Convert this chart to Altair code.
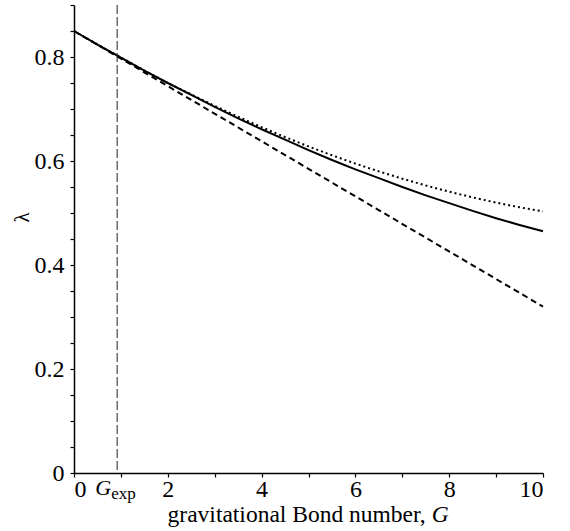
import altair as alt
import pandas as pd

# Bond number grid and λ values
g = [0.0, 0.5, 1.0, 1.5, 2.0, 2.5, 3.0, 3.5, 4.0, 4.5, 5.0,
     5.5, 6.0, 6.5, 7.0, 7.5, 8.0, 8.5, 9.0, 9.5, 10.0]
lam_solid = [0.850, 0.824, 0.799, 0.774, 0.750, 0.727, 0.704, 0.682, 0.661, 0.641, 0.621,
             0.602, 0.584, 0.567, 0.550, 0.534, 0.519, 0.504, 0.490, 0.477, 0.465]
lam_dotted = [0.850, 0.824, 0.799, 0.774, 0.750, 0.728, 0.706, 0.685, 0.665, 0.646, 0.628,
              0.611, 0.595, 0.580, 0.566, 0.553, 0.541, 0.530, 0.520, 0.511, 0.503]
g_lin = [0.0, 10.0]
lam_dashed = [0.85, 0.32]
g_exp = [0.92]

x_ticks = list(range(11))
y_ticks = [round(0.05 * i, 2) for i in range(19)]

FONT = "Liberation Serif"

x_scale = alt.Scale(domain=[0, 10], nice=False, zero=False)
y_scale = alt.Scale(domain=[0, 0.9], nice=False, zero=False)

x_axis = alt.Axis(
    values=x_ticks,
    labelExpr="datum.value % 2 == 0 ? datum.label : ''",
    title=None, labelPadding=0,
)
y_axis = alt.Axis(
    values=y_ticks,
    labelExpr="abs(datum.value*5 - round(datum.value*5)) < 0.001 ? (datum.value == 0 ? '0' : format(datum.value, '.1f')) : ''",
    title="λ", titleX=-42, titleY=212, labelPadding=6,
)

df_s = pd.DataFrame({"G": g, "lam": lam_solid})
df_d = pd.DataFrame({"G": g, "lam": lam_dotted})
df_l = pd.DataFrame({"G": g_lin, "lam": lam_dashed})
df_e = pd.DataFrame({"G": g_exp})

X = alt.X("G:Q", scale=x_scale, axis=x_axis)
Y = alt.Y("lam:Q", scale=y_scale, axis=y_axis)

solid = alt.Chart(df_s).mark_line(color="black", strokeWidth=2).encode(x=X, y=Y)
dotted = alt.Chart(df_d).mark_line(color="black", strokeWidth=2, strokeDash=[2, 3]).encode(x=X, y=Y)
dashed = alt.Chart(df_l).mark_line(color="black", strokeWidth=2, strokeDash=[6, 4]).encode(x=X, y=Y)

vline = alt.Chart(df_e).mark_rule(color="#222222", strokeWidth=1, strokeDash=[9, 3]).encode(x=X)

gexp_G = alt.Chart(df_e).mark_text(
    text="G", font=FONT, fontStyle="italic", fontSize=22, color="black",
    align="right", baseline="alphabetic", dx=-6,
).encode(x=X, y=alt.value(490))
gexp_sub = alt.Chart(df_e).mark_text(
    text="exp", font=FONT, fontSize=17, color="black",
    align="left", baseline="alphabetic", dx=-6,
).encode(x=X, y=alt.value(494))

title_df = pd.DataFrame({"G": [7.5]})
xt1 = alt.Chart(title_df).mark_text(
    text="gravitational Bond number,", font=FONT, fontSize=23.5, color="black",
    align="right", baseline="alphabetic",
).encode(x=X, y=alt.value(517))
xt2 = alt.Chart(title_df).mark_text(
    text="G", font=FONT, fontStyle="italic", fontSize=23.5, color="black",
    align="left", baseline="alphabetic", dx=6,
).encode(x=X, y=alt.value(517))

chart = alt.layer(solid, dotted, dashed, vline, gexp_G, gexp_sub, xt1, xt2).properties(
    width=469, height=468,
    background="white",
    autosize=alt.AutoSizeParams(type="none"),
    padding={"left": 74, "top": 5, "right": 27, "bottom": 58},
).configure_view(strokeWidth=0, stroke=None).configure_axis(
    grid=False, domainColor="black", domainWidth=1.5,
    tickColor="black", tickSize=4, tickWidth=1.2,
    labelFont=FONT, labelFontSize=24, labelColor="black",
    titleFont=FONT, titleFontSize=21, titleFontWeight="normal", titleColor="black",
)

chart.save("out.html", embed_options={"renderer": "svg", "actions": False})
